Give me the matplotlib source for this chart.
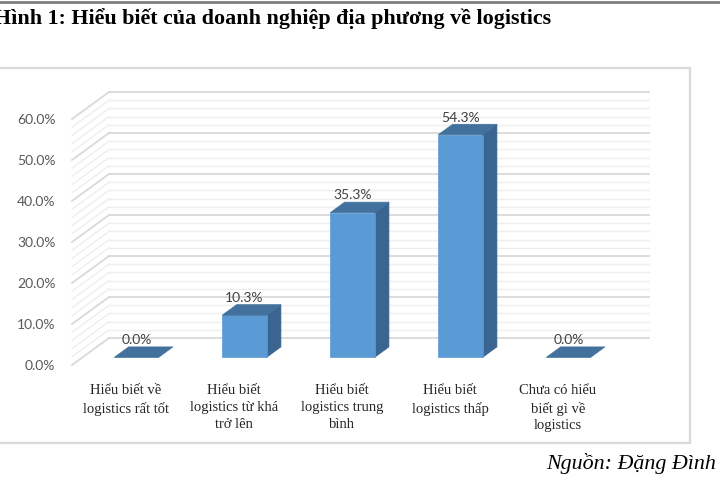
import matplotlib
matplotlib.use("Agg")
import matplotlib.pyplot as plt
from matplotlib.patches import Polygon, Rectangle
from matplotlib.lines import Line2D
import numpy as np

title = "Hình 1: Hiểu biết của doanh nghiệp địa phương về logistics"
source = "Nguồn: Đặng Đình"
categories = ["Hiểu biết về\nlogistics rất tốt",
              "Hiểu biết\nlogistics từ khá\ntrở lên",
              "Hiểu biết\nlogistics trung\nbình",
              "Hiểu biết\nlogistics thấp",
              "Chưa có hiểu\nbiết gì về\nlogistics"]
values = [0.0, 10.3, 35.3, 54.3, 0.0]
yticks = [0, 10, 20, 30, 40, 50, 60]

W, H = 720, 480
fig = plt.figure(figsize=(7.2, 4.8), dpi=100)
fig.patch.set_facecolor("white")

# axes placement (pixels): front floor from x=72..612, y 0%->365, 60%->119
ax_l, ax_r, ax_b, ax_t = 72, 612, 365, 119
ax = fig.add_axes([ax_l / W, 1 - ax_b / H, (ax_r - ax_l) / W, (ax_b - ax_t) / H])
ax.set_xlim(-0.5, len(categories) - 0.5)
ax.set_ylim(0, 60)
for s in ax.spines.values():
    s.set_visible(False)
ax.patch.set_visible(False)

# depth vector in data units
px_per_cat = (ax_r - ax_l) / len(categories)
px_per_pct = (ax_b - ax_t) / 60.0
Dx = 37 / px_per_cat
Dy = 27 / px_per_pct

def P(x, y, d):
    return (x + d * Dx, y + d * Dy)

# walls / gridlines
x0, x1 = -0.5, len(categories) - 0.5
for g in np.arange(0, 61, 2):
    major = (g % 10 == 0)
    col = "#d9d9d9" if major else "#eeeeee"
    lw = 1.3 if major else 1.0
    z = 2 if major else 1
    a, b = P(x0, g, 1), P(x1, g, 1)
    ax.add_line(Line2D([a[0], b[0]], [a[1], b[1]], color=col, lw=lw, zorder=z, clip_on=False))
    a, b = P(x0, g, 0), P(x0, g, 1)
    ax.add_line(Line2D([a[0], b[0]], [a[1], b[1]], color=col, lw=lw, zorder=z, clip_on=False))

ax.set_yticks(yticks)
ax.set_yticklabels([f"{t:.1f}%" for t in yticks], fontfamily="Lato", fontsize=10, color="#595959")
ax.tick_params(axis="y", length=0, pad=12)
ax.set_xticks(range(len(categories)))
ax.set_xticklabels(categories, fontfamily="Liberation Serif", fontsize=10.5, color="#262626",
                   linespacing=1.38, va="top")
ax.tick_params(axis="x", length=0, pad=14)

# bars
f0, f1 = 0.28, 0.67
w = 0.41
c_front, c_side, c_top = "#5B9BD5", "#3A6591", "#41719C"
for i, v in enumerate(values):
    xl, xr = i - w / 2, i + w / 2
    if v > 0:
        front = [P(xl, 0, f0), P(xr, 0, f0), P(xr, v, f0), P(xl, v, f0)]
        side = [P(xr, 0, f0), P(xr, 0, f1), P(xr, v, f1), P(xr, v, f0)]
        ax.add_patch(Polygon(side, closed=True, facecolor=c_side, edgecolor=c_side, lw=0.5, zorder=5, clip_on=False))
        ax.add_patch(Polygon(front, closed=True, facecolor=c_front, edgecolor=c_front, lw=0.5, zorder=6, clip_on=False))
    top = [P(xl, v, f0), P(xr, v, f0), P(xr, v, f1), P(xl, v, f1)]
    ax.add_patch(Polygon(top, closed=True, facecolor=c_top, edgecolor=c_top, lw=0.5, zorder=6, clip_on=False))
    lx, ly = P(i, v, f0)[0], P(i, v, f1)[1]
    ax.annotate(f"{v:.1f}%", (lx, ly), xytext=(0, 0.5), textcoords="offset points",
                ha="center", va="bottom", fontfamily="Lato", fontsize=10, color="#404040",
                zorder=7, annotation_clip=False)

# chart frame (left edge is off-canvas)
fig.patches.append(Rectangle((-6 / W, 1 - 443 / H), (690 + 6) / W, (443 - 68) / H,
                             transform=fig.transFigure, fill=False, edgecolor="#d9d9d9", lw=1.6))
# top rule
fig.add_artist(Line2D([0, 1], [1 - 1.5 / H, 1 - 1.5 / H], transform=fig.transFigure,
                      color="#7f7f7f", lw=2))

fig.text(-6 / W, 1 - 24 / H, title, fontfamily="Liberation Serif", fontweight="bold",
         fontsize=15.8, color="black", ha="left", va="baseline")
fig.text(546 / W, 1 - 469 / H, source, fontfamily="Liberation Serif", fontstyle="italic",
         fontsize=15.8, color="black", ha="left", va="baseline")

fig.savefig("out.png", dpi=100)
